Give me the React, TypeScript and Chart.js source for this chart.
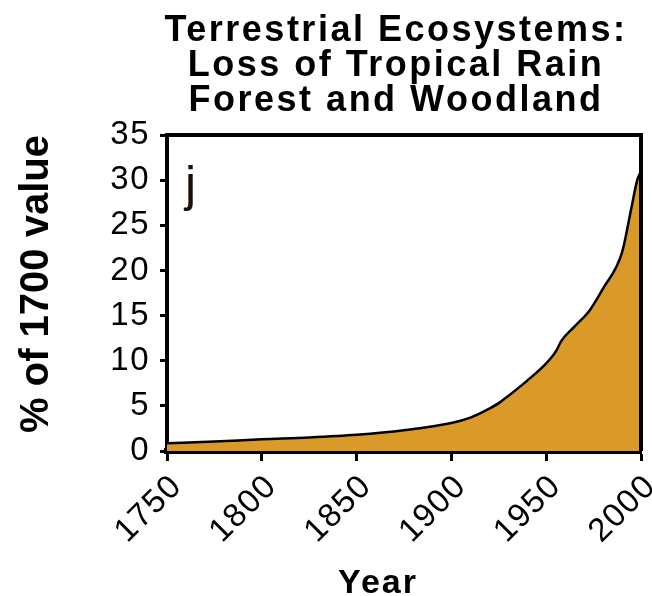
import React, { useEffect, useRef } from "react";
import { Chart, registerables } from "chart.js";

Chart.register(...registerables);

const titleLines = ["Terrestrial Ecosystems:", "Loss of Tropical Rain", "Forest and Woodland"];
const yAxisTitle = "% of 1700 value";
const xAxisTitle = "Year";
const panelLabel = "j";

const years = [1750, 1775, 1800, 1825, 1850, 1875, 1900, 1910, 1920, 1925, 1930, 1940, 1950, 1955, 1958, 1965, 1973, 1980, 1990, 1995, 1998, 2000];
const lossValues = [0.85, 1.05, 1.3, 1.5, 1.8, 2.3, 3.1, 3.7, 4.7, 5.3, 6.1, 7.8, 9.7, 11.0, 12.2, 13.8, 15.6, 18.0, 22.0, 27.0, 30.0, 31.0];

const xMin = 1750;
const xMax = 2000;
const xStep = 50;
const yMin = 0;
const yMax = 35;
const yStep = 5;

const FONT = "'Liberation Sans', Arial, Helvetica, sans-serif";

const textPlugin = {
  id: "customText",
  beforeDraw(chart: any) {
    const ctx = chart.ctx;
    ctx.letterSpacing = "1.5px";
  },
  afterDraw(chart: any) {
    const ctx = chart.ctx;
    const area = chart.chartArea;
    ctx.save();
    // frame top & right
    ctx.strokeStyle = "#000";
    ctx.lineWidth = 4;
    ctx.beginPath();
    ctx.moveTo(area.left - 2, area.top);
    ctx.lineTo(area.right, area.top);
    ctx.lineTo(area.right, area.bottom);
    ctx.stroke();

    ctx.fillStyle = "#000";
    // main title
    ctx.letterSpacing = "2.5px";
    ctx.font = `bold 36px ${FONT}`;
    ctx.textAlign = "center";
    ctx.textBaseline = "alphabetic";
    const baselines = [41, 76, 111];
    titleLines.forEach((t, i) => ctx.fillText(t, 396, baselines[i]));

    // x title
    ctx.letterSpacing = "2px";
    ctx.font = `bold 34px ${FONT}`;
    ctx.fillText(xAxisTitle, 378, 593);

    // y title
    ctx.save();
    ctx.letterSpacing = "0px";
    ctx.translate(48, 284);
    ctx.rotate(-Math.PI / 2);
    ctx.font = `bold 40px ${FONT}`;
    ctx.fillText(yAxisTitle, 0, 0);
    ctx.restore();

    // panel label
    ctx.letterSpacing = "0px";
    ctx.textAlign = "left";
    ctx.font = `50px ${FONT}`;
    ctx.fillStyle = "#1a1208";
    ctx.fillText(panelLabel, 185, 201);
    ctx.restore();
  },
};

export default function App() {
  const ref = useRef<HTMLCanvasElement | null>(null);

  useEffect(() => {
    document.body.style.margin = "0";
    if (!ref.current) return;
    const data = years.map((y, i) => ({ x: y, y: lossValues[i] }));
    const chart = new Chart(ref.current, {
      type: "line",
      data: {
        datasets: [
          {
            data,
            borderColor: "#000",
            borderWidth: 2.5,
            backgroundColor: "#D99A2A",
            fill: "origin",
            pointRadius: 0,
            cubicInterpolationMode: "monotone",
          },
        ],
      },
      options: {
        responsive: false,
        animation: false,
        layout: { padding: { top: 135, left: 0, right: 11, bottom: 0 } },
        plugins: {
          legend: { display: false },
          tooltip: { enabled: false },
          title: { display: false },
        },
        scales: {
          x: {
            type: "linear",
            min: xMin,
            max: xMax,
            afterFit: (s: any) => {
              s.height = 596 - 451;
              s.paddingLeft = 0;
              s.paddingRight = 0;
            },
            ticks: {
              stepSize: xStep,
              minRotation: 45,
              maxRotation: 45,
              color: "#000",
              font: { size: 33, family: FONT },
              padding: 6,
              labelOffset: 10,
              callback: (v: any) => String(v),
            },
            grid: {
              drawOnChartArea: false,
              drawTicks: true,
              tickLength: 10,
              tickWidth: 3,
              tickColor: "#000",
            },
            border: { display: true, color: "#000", width: 6 },
          },
          y: {
            min: yMin,
            max: yMax,
            afterFit: (s: any) => {
              s.width = 167;
              s.paddingTop = 0;
              s.paddingBottom = 0;
            },
            ticks: {
              stepSize: yStep,
              color: "#000",
              font: { size: 33, family: FONT },
              padding: 10,
            },
            grid: {
              drawOnChartArea: false,
              drawTicks: true,
              tickLength: 7,
              tickWidth: 3,
              tickColor: "#000",
            },
            border: { display: true, color: "#000", width: 4 },
          },
        },
      },
      plugins: [textPlugin],
    });
    return () => chart.destroy();
  }, []);

  return <canvas ref={ref} width={652} height={596} style={{ display: "block" }} />;
}
